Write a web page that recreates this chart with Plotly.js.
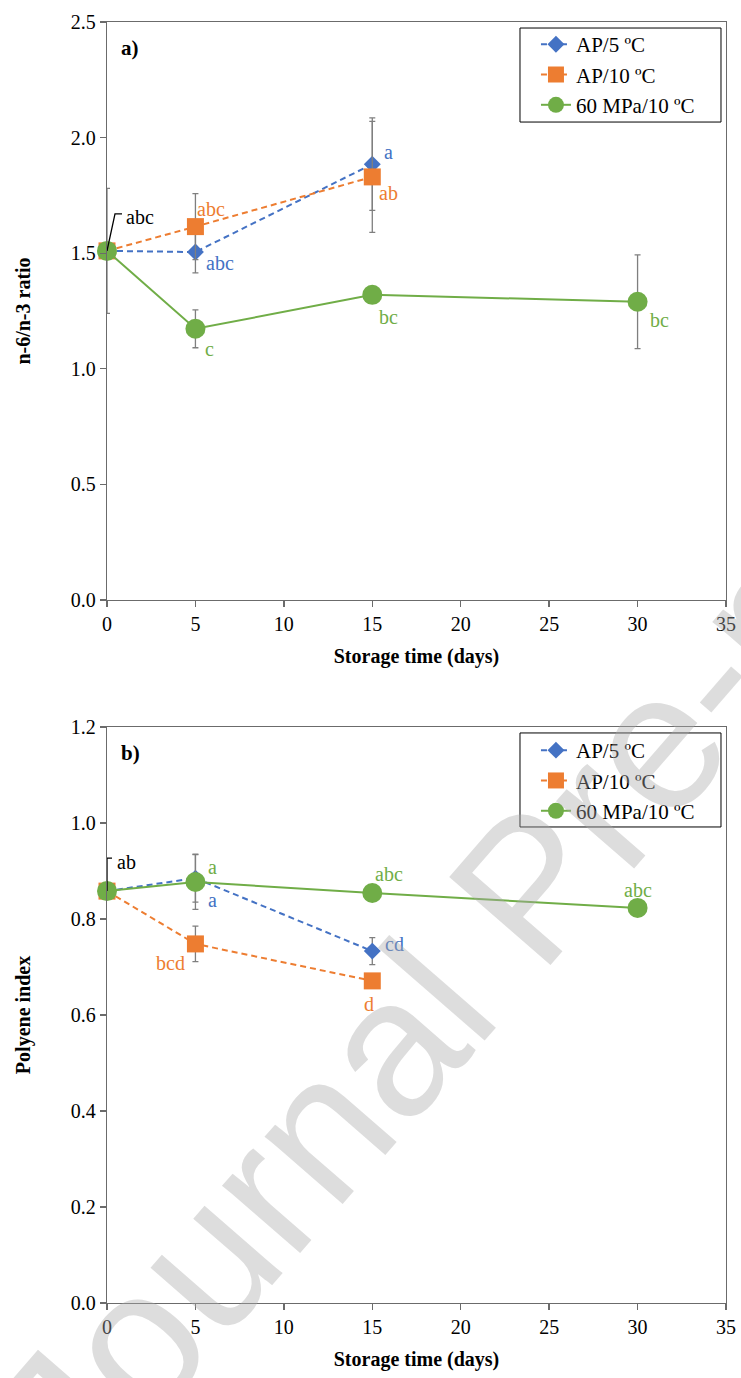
<!DOCTYPE html>
<html>
<head>
<meta charset="utf-8">
<script src="https://cdn.plot.ly/plotly-3.0.1.min.js"></script>
<style>
html,body{margin:0;padding:0;background:#fff;}
#chart{width:741px;height:1378px;}
</style>
</head>
<body>
<div id="chart"></div>
<script>
// ---------- data ----------
const seriesNames = ['AP/5 ºC', 'AP/10 ºC', '60 MPa/10 ºC'];
const daysAP = [0, 5, 15];
const daysHP = [0, 5, 15, 30];

const ratioAP5 = [1.51, 1.505, 1.885];
const ratioAP5Err = [0, 0.09, 0.2];
const ratioAP10 = [1.51, 1.615, 1.83];
const ratioAP10Err = [0, 0.143, 0.24];
const ratioHP = [1.51, 1.173, 1.32, 1.29];
const ratioHPErr = [0.27, 0.082, 0.02, 0.203];

const polyAP5 = [0.858, 0.885, 0.733];
const polyAP5Err = [0, 0.05, 0.028];
const polyAP10 = [0.858, 0.748, 0.671];
const polyAP10Err = [0, 0.037, 0.012];
const polyHP = [0.858, 0.877, 0.854, 0.823];
const polyHPErr = [0.01, 0.057, 0.01, 0.015];

const ratioAP5Letters = ['', 'abc', 'a'];
const ratioAP10Letters = ['', 'abc', 'ab'];
const ratioHPLetters = ['abc', 'c', 'bc', 'bc'];
const polyAP5Letters = ['', 'a', 'cd'];
const polyAP10Letters = ['', 'bcd', 'd'];
const polyHPLetters = ['ab', 'a', 'abc', 'abc'];

const xTickVals = [0, 5, 10, 15, 20, 25, 30, 35];
const ratioTickVals = [0, 0.5, 1.0, 1.5, 2.0, 2.5];
const polyTickVals = [0, 0.2, 0.4, 0.6, 0.8, 1.0, 1.2];

// ---------- style ----------
const BLUE = '#4472C4', ORANGE = '#ED7D31', GREEN = '#70AD47';
const FONT = '"Liberation Serif", "Times New Roman", serif';
const AXC = '#6b6b6b';
const ERRC = '#7f7f7f';

function errY(arr) {
  return {type: 'data', array: arr, visible: true, color: ERRC, thickness: 1.3, width: 3};
}

function makeTraces(xa, ya, legend, ap5, ap5e, ap10, ap10e, hp, hpe) {
  return [
    {x: daysAP, y: ap5, error_y: errY(ap5e), name: seriesNames[0], xaxis: xa, yaxis: ya, legend: legend,
     mode: 'lines+markers', cliponaxis: false,
     line: {color: BLUE, width: 2, dash: '6px,4px'},
     marker: {symbol: 'diamond', size: 13, color: BLUE}},
    {x: daysAP, y: ap10, error_y: errY(ap10e), name: seriesNames[1], xaxis: xa, yaxis: ya, legend: legend,
     mode: 'lines+markers', cliponaxis: false,
     line: {color: ORANGE, width: 2, dash: '6px,4px'},
     marker: {symbol: 'square', size: 17, color: ORANGE}},
    {x: daysHP, y: hp, error_y: errY(hpe), name: seriesNames[2], xaxis: xa, yaxis: ya, legend: legend,
     mode: 'lines+markers', cliponaxis: false,
     line: {color: GREEN, width: 2},
     marker: {symbol: 'circle', size: 20, color: GREEN}}
  ];
}

const traces = [].concat(
  makeTraces('x', 'y', 'legend', ratioAP5, ratioAP5Err, ratioAP10, ratioAP10Err, ratioHP, ratioHPErr),
  makeTraces('x2', 'y2', 'legend2', polyAP5, polyAP5Err, polyAP10, polyAP10Err, polyHP, polyHPErr)
);

// letter annotations: [pixel dx, pixel dy(down)] offsets from point
const annotations = [];
function addLetters(xref, yref, xs, ys, letters, offsets, colors) {
  letters.forEach((t, i) => {
    if (!t) return;
    annotations.push({
      x: xs[i], y: ys[i], xref: xref, yref: yref, text: t, showarrow: false,
      xanchor: 'center', yanchor: 'middle',
      xshift: offsets[i][0], yshift: -offsets[i][1],
      font: {family: FONT, size: 20, color: colors[i]}
    });
  });
}
addLetters('x', 'y', daysAP, ratioAP5, ratioAP5Letters, [null, [24.5, 11], [16, -12]], [BLUE, BLUE, BLUE]);
addLetters('x', 'y', daysAP, ratioAP10, ratioAP10Letters, [null, [16, -18], [16.5, 16]], [ORANGE, ORANGE, ORANGE]);
addLetters('x', 'y', daysHP, ratioHP, ratioHPLetters, [[33, -34], [14, 20], [16, 22], [22, 18]], ['#000', GREEN, GREEN, GREEN]);
addLetters('x2', 'y2', daysAP, polyAP5, polyAP5Letters, [null, [17, 22], [22, -7]], [BLUE, BLUE, BLUE]);
addLetters('x2', 'y2', daysAP, polyAP10, polyAP10Letters, [null, [-24.5, 19], [-3, 23]], [ORANGE, ORANGE, ORANGE]);
addLetters('x2', 'y2', daysHP, polyHP, polyHPLetters, [[19, -29], [17, -15], [17, -19], [0, -18]], ['#000', GREEN, GREEN, GREEN]);

// panel labels
annotations.push({xref: 'x domain', yref: 'y domain', x: 0.02, y: 0.955, text: 'a)', showarrow: false,
  xanchor: 'left', yanchor: 'middle', font: {family: FONT, size: 21, color: '#000', weight: 'bold'}});
annotations.push({xref: 'x2 domain', yref: 'y2 domain', x: 0.02, y: 0.955, text: 'b)', showarrow: false,
  xanchor: 'left', yanchor: 'middle', font: {family: FONT, size: 21, color: '#000', weight: 'bold'}});

// watermark
annotations.push({xref: 'paper', yref: 'paper', x: 0.68, y: 0.325, text: 'Journal Pre-proof', showarrow: false,
  textangle: -49, xanchor: 'center', yanchor: 'middle',
  font: {family: '"Liberation Sans", Arial, sans-serif', size: 195, color: 'rgba(170,170,170,0.4)'}});

// leader lines + legend frames
const shapes = [
  {type: 'path', xref: 'x', yref: 'y', xsizemode: 'pixel', ysizemode: 'pixel',
   xanchor: daysHP[0], yanchor: ratioHP[0], path: 'M0,0 L8,37 L15,37',
   line: {color: '#000', width: 1.3}},
  {type: 'path', xref: 'x2', yref: 'y2', xsizemode: 'pixel', ysizemode: 'pixel',
   xanchor: daysHP[0], yanchor: polyHP[0], path: 'M0,0 L0,33 L5,33',
   line: {color: '#000', width: 1.3}},
  {type: 'rect', xref: 'paper', yref: 'paper', x0: 0.6672, x1: 0.9919, y0: 0.9219, y1: 0.9953,
   fillcolor: '#fff', line: {color: '#000', width: 1}, layer: 'above'},
  {type: 'rect', xref: 'paper', yref: 'paper', x0: 0.6672, x1: 0.9919, y0: 0.3716, y1: 0.445,
   fillcolor: '#fff', line: {color: '#000', width: 1}, layer: 'above'}
];

function xAxis(anchor) {
  return {
    anchor: anchor, range: [0, 35], tickvals: xTickVals, showgrid: false, zeroline: false,
    showline: true, linecolor: AXC, linewidth: 1.3, mirror: true,
    ticks: 'outside', ticklen: 6, tickcolor: AXC, tickwidth: 1.3,
    tickfont: {family: FONT, size: 20, color: '#000'},
    title: {text: 'Storage time (days)', standoff: 14,
            font: {family: FONT, size: 20, color: '#000', weight: 'bold'}}
  };
}
function yAxis(anchor, range, vals, title, domain) {
  return {
    anchor: anchor, domain: domain, range: range, tickvals: vals, tickformat: '.1f',
    showgrid: false, zeroline: false,
    showline: true, linecolor: AXC, linewidth: 1.3, mirror: true,
    ticks: 'outside', ticklen: 6, tickcolor: AXC, tickwidth: 1.3,
    tickfont: {family: FONT, size: 20, color: '#000'},
    title: {text: title, standoff: 34,
            font: {family: FONT, size: 20, color: '#000', weight: 'bold'}}
  };
}

const legendStyle = {
  xref: 'paper', yref: 'paper', xanchor: 'left', yanchor: 'top',
  bgcolor: 'rgba(0,0,0,0)', borderwidth: 0,
  font: {family: FONT, size: 21, color: '#000'},
  indentation: 0, itemwidth: 30
};

const layout = {
  width: 741, height: 1378,
  margin: {l: 107, r: 15, t: 22, b: 75},
  paper_bgcolor: '#fff', plot_bgcolor: '#fff',
  showlegend: true,
  xaxis: xAxis('y'),
  yaxis: yAxis('x', [0, 2.5], ratioTickVals, 'n-6/n-3 ratio', [0.5488, 1]),
  xaxis2: xAxis('y2'),
  yaxis2: yAxis('x2', [0, 1.2], polyTickVals, 'Polyene index', [0, 0.4497]),
  legend: Object.assign({x: 0.693, y: 0.9984}, legendStyle),
  legend2: Object.assign({x: 0.693, y: 0.4473}, legendStyle),
  annotations: annotations,
  shapes: shapes
};

Plotly.newPlot('chart', traces, layout, {displayModeBar: false, staticPlot: true});
</script>
</body>
</html>
